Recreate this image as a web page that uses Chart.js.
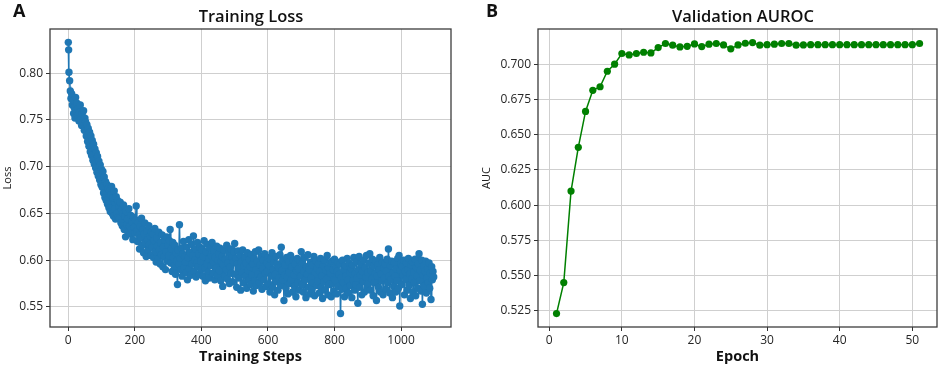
<!DOCTYPE html>
<html>
<head>
<meta charset="utf-8">
<title>Training Loss / Validation AUROC</title>
<script src="https://cdn.jsdelivr.net/npm/chart.js@4.4.1/dist/chart.umd.min.js"></script>
<style>
  body { margin: 0; background: #fff; font-family: "Open Sans", sans-serif; }
  #wrap { position: relative; width: 941px; height: 369px; overflow: hidden; }
  #wrap canvas { position: absolute; top: 0; }
  .letter { position: absolute; top: 0; font-size: 18px; font-weight: bold; color: #111; line-height: 20px; }
  .ttl { position: absolute; top: 4px; font-size: 16.5px; font-weight: 600; color: #111; line-height: 24px; text-align: center; width: 300px; }
</style>
</head>
<body>
<div id="wrap">
  <canvas id="cLoss" width="470" height="369" style="left:0"></canvas>
  <canvas id="cAuc" width="471" height="369" style="left:470px"></canvas>
  <div class="letter" style="left:13px">A</div>
  <div class="letter" style="left:486px">B</div>
  <div class="ttl" style="left:101px">Training Loss</div>
  <div class="ttl" style="left:593px">Validation AUROC</div>
</div>
<script>
// training loss: steps 0 and 1, then one value every 2 steps (step 2 .. 1098)
var lossHeadSteps  = [0, 1];
var lossHeadValues = [0.833, 0.825];
var lossEvery = 2;
var lossValues = [
  0.801, 0.792, 0.781, 0.773, 0.778, 0.766, 0.771, 0.757, 0.763, 0.752, 0.774, 0.760, 0.768, 0.755, 0.762, 0.749, 0.758, 0.766, 0.751, 0.744, 0.757, 0.748, 0.760, 0.739, 0.752,
  0.748, 0.733, 0.745, 0.727, 0.741, 0.722, 0.737, 0.716, 0.733, 0.712, 0.728, 0.707, 0.724, 0.703, 0.719, 0.699, 0.715, 0.694, 0.711, 0.690, 0.706, 0.686, 0.702, 0.681, 0.697,
  0.678, 0.695, 0.672, 0.689, 0.667, 0.684, 0.664, 0.681, 0.660, 0.677, 0.656, 0.674, 0.652, 0.670, 0.679, 0.650, 0.667, 0.647, 0.674, 0.655, 0.644, 0.668, 0.650, 0.664, 0.646,
  0.658, 0.645, 0.662, 0.640, 0.654, 0.637, 0.650, 0.659, 0.633, 0.647, 0.625, 0.652, 0.638, 0.644, 0.630, 0.655, 0.636, 0.628, 0.648, 0.633, 0.641, 0.622, 0.646, 0.635, 0.629,
  0.643, 0.658, 0.631, 0.620, 0.640, 0.627, 0.612, 0.636, 0.624, 0.645, 0.616, 0.633, 0.608, 0.628, 0.640, 0.619, 0.604, 0.631, 0.622, 0.611, 0.637, 0.617, 0.626, 0.605, 0.630,
  0.614, 0.628, 0.603, 0.621, 0.634, 0.609, 0.598, 0.624, 0.615, 0.601, 0.630, 0.611, 0.596, 0.619, 0.606, 0.627, 0.593, 0.614, 0.604, 0.622, 0.590, 0.609, 0.625, 0.599, 0.616,
  0.605, 0.621, 0.633, 0.597, 0.612, 0.588, 0.619, 0.603, 0.594, 0.616, 0.585, 0.608, 0.599, 0.574, 0.611, 0.596, 0.638, 0.602, 0.590, 0.613, 0.583, 0.607, 0.620, 0.592, 0.604,
  0.598, 0.587, 0.614, 0.579, 0.603, 0.622, 0.591, 0.608, 0.584, 0.617, 0.596, 0.605, 0.626, 0.588, 0.600, 0.612, 0.582, 0.597, 0.619, 0.593, 0.607, 0.585, 0.614, 0.599, 0.590,
  0.611, 0.583, 0.604, 0.621, 0.592, 0.578, 0.609, 0.596, 0.617, 0.587, 0.601, 0.581, 0.613, 0.594, 0.605, 0.619, 0.586, 0.598, 0.610, 0.579, 0.603, 0.592, 0.615, 0.584, 0.600,
  0.607, 0.589, 0.613, 0.578, 0.599, 0.604, 0.572, 0.595, 0.611, 0.583, 0.601, 0.590, 0.616, 0.580, 0.597, 0.608, 0.575, 0.593, 0.612, 0.586, 0.603, 0.577, 0.598, 0.609, 0.618,
  0.585, 0.602, 0.571, 0.596, 0.610, 0.581, 0.592, 0.605, 0.568, 0.598, 0.587, 0.611, 0.576, 0.594, 0.603, 0.583, 0.597, 0.570, 0.608, 0.589, 0.579, 0.601, 0.593, 0.574, 0.606,
  0.584, 0.596, 0.567, 0.602, 0.578, 0.609, 0.590, 0.573, 0.599, 0.585, 0.611, 0.576, 0.595, 0.582, 0.604, 0.569, 0.591, 0.600, 0.579, 0.607, 0.586, 0.572, 0.597, 0.588, 0.603,
  0.575, 0.594, 0.566, 0.601, 0.583, 0.608, 0.571, 0.590, 0.598, 0.563, 0.585, 0.604, 0.577, 0.596, 0.568, 0.592, 0.581, 0.606, 0.573, 0.614, 0.589, 0.579, 0.600, 0.557, 0.584,
  0.595, 0.570, 0.603, 0.582, 0.564, 0.598, 0.587, 0.575, 0.605, 0.579, 0.593, 0.566, 0.600, 0.584, 0.572, 0.596, 0.561, 0.589, 0.602, 0.576, 0.591, 0.568, 0.599, 0.583, 0.609,
  0.574, 0.597, 0.566, 0.588, 0.603, 0.579, 0.560, 0.593, 0.585, 0.606, 0.571, 0.590, 0.564, 0.598, 0.581, 0.569, 0.595, 0.576, 0.604, 0.562, 0.587, 0.599, 0.573, 0.591, 0.578,
  0.596, 0.565, 0.588, 0.602, 0.571, 0.583, 0.559, 0.594, 0.577, 0.600, 0.568, 0.589, 0.580, 0.605, 0.563, 0.592, 0.574, 0.597, 0.586, 0.561, 0.599, 0.575, 0.590, 0.567, 0.601,
  0.578, 0.593, 0.564, 0.588, 0.598, 0.572, 0.585, 0.596, 0.543, 0.581, 0.569, 0.600, 0.576, 0.590, 0.561, 0.594, 0.583, 0.570, 0.602, 0.579, 0.565, 0.597, 0.587, 0.573, 0.591,
  0.560, 0.595, 0.578, 0.603, 0.568, 0.586, 0.574, 0.598, 0.581, 0.554, 0.590, 0.604, 0.571, 0.584, 0.596, 0.563, 0.588, 0.577, 0.600, 0.566, 0.592, 0.582, 0.605, 0.570, 0.587,
  0.575, 0.597, 0.607, 0.568, 0.589, 0.580, 0.601, 0.562, 0.594, 0.576, 0.586, 0.599, 0.557, 0.583, 0.595, 0.571, 0.590, 0.603, 0.566, 0.585, 0.578, 0.598, 0.563, 0.592, 0.581,
  0.596, 0.569, 0.588, 0.601, 0.576, 0.612, 0.583, 0.565, 0.594, 0.579, 0.599, 0.560, 0.587, 0.572, 0.597, 0.583, 0.566, 0.591, 0.578, 0.602, 0.570, 0.605, 0.551, 0.589, 0.596,
  0.574, 0.593, 0.584, 0.600, 0.563, 0.588, 0.579, 0.597, 0.568, 0.590, 0.602, 0.573, 0.585, 0.559, 0.595, 0.580, 0.598, 0.566, 0.587, 0.576, 0.601, 0.562, 0.592, 0.583, 0.570,
  0.596, 0.607, 0.578, 0.589, 0.567, 0.600, 0.553, 0.584, 0.594, 0.572, 0.588, 0.599, 0.565, 0.581, 0.591, 0.576, 0.597, 0.570, 0.586, 0.558, 0.593, 0.579, 0.588, 0.582
];
var lossXTicks = [0, 200, 400, 600, 800, 1000];
var lossYTicks = [0.55, 0.60, 0.65, 0.70, 0.75, 0.80];

// validation AUROC, epochs 1..51
var aucValues = [
  0.523, 0.545, 0.610, 0.641, 0.6665, 0.6815, 0.684, 0.695, 0.700, 0.7076,
  0.7066, 0.7076, 0.7085, 0.708, 0.7118, 0.7147, 0.7135, 0.7123, 0.7127, 0.7144,
  0.7125, 0.7142, 0.7147, 0.7137, 0.7109, 0.7137, 0.7149, 0.7154, 0.7135, 0.7139,
  0.7142, 0.7147, 0.7147, 0.7135, 0.7137, 0.7139, 0.7139, 0.7139, 0.7139, 0.7139,
  0.7139, 0.7139, 0.7139, 0.7139, 0.7139, 0.7139, 0.7139, 0.7139, 0.7139, 0.7139,
  0.7147
];
var aucXTicks = [0, 10, 20, 30, 40, 50];
var aucYTicks = [0.525, 0.550, 0.575, 0.600, 0.625, 0.650, 0.675, 0.700];

var FONT = '"Open Sans", sans-serif';
var GRID = '#cfcfcf';
var TICKC = '#333';

// full box around the plot area, like the matplotlib spines
var frame = {
  id: 'frame',
  afterDraw: function(chart){
    var a = chart.chartArea, ctx = chart.ctx;
    ctx.save();
    ctx.strokeStyle = '#3c3c3c';
    ctx.lineWidth = 1.3;
    ctx.strokeRect(a.left, a.top, a.right - a.left, a.bottom - a.top);
    ctx.restore();
  }
};

function fixedTicks(arr){
  return function(scale){ scale.ticks = arr.map(function(v){ return {value: v}; }); };
}

function axes(o){
  return {
    x: {
      type: 'linear', min: o.xmin, max: o.xmax,
      afterBuildTicks: fixedTicks(o.xticks),
      afterFit: function(s){ s.height = 39; },
      grid: { color: GRID, lineWidth: 1, tickColor: TICKC, tickLength: 4 },
      border: { display: false },
      ticks: { color: '#262626', font: { family: FONT, size: 12 }, padding: 2, maxRotation: 0,
               callback: function(v){ return String(v); } },
      title: { display: true, text: o.xtitle, color: '#111', padding: { top: 0, bottom: 0 },
               font: { family: FONT, size: 14.5, weight: 'bold' } }
    },
    y: {
      type: 'linear', min: o.ymin, max: o.ymax,
      afterBuildTicks: fixedTicks(o.yticks),
      afterFit: function(s){ s.width = o.yw; },
      grid: { color: GRID, lineWidth: 1, tickColor: TICKC, tickLength: 4 },
      border: { display: false },
      ticks: { color: '#262626', font: { family: FONT, size: 12 }, padding: 3,
               callback: function(v){ return v.toFixed(o.dec); } },
      title: { display: true, text: o.ytitle, color: '#222', padding: { top: o.ytpad, bottom: 0 },
               font: { family: FONT, size: 11 } }
    }
  };
}

var lossData = lossHeadSteps.map(function(s, i){ return {x: s, y: lossHeadValues[i]}; })
  .concat(lossValues.map(function(v, i){ return {x: (i + 1) * lossEvery, y: v}; }));

new Chart(document.getElementById('cLoss'), {
  type: 'line',
  data: { datasets: [{
    data: lossData, borderColor: '#1f77b4', backgroundColor: '#1f77b4',
    borderWidth: 1.6, pointRadius: 3.7, pointBorderWidth: 0, pointHoverRadius: 3.7, tension: 0
  }] },
  options: {
    responsive: false, animation: false, devicePixelRatio: 1,
    layout: { padding: { top: 29, right: 19, bottom: 3, left: 0 } },
    plugins: { legend: { display: false }, tooltip: { enabled: false } },
    scales: axes({ xmin: -55, xmax: 1150, ymin: 0.5286, ymax: 0.8473, xticks: lossXTicks, yticks: lossYTicks,
                   xtitle: 'Training Steps', ytitle: 'Loss', yw: 50, dec: 2, ytpad: 1 })
  },
  plugins: [frame]
});

new Chart(document.getElementById('cAuc'), {
  type: 'line',
  data: { datasets: [{
    data: aucValues.map(function(v, i){ return {x: i + 1, y: v}; }),
    borderColor: '#008000', backgroundColor: '#008000',
    borderWidth: 1.5, pointRadius: 3.6, pointBorderWidth: 0, pointHoverRadius: 3.6, tension: 0
  }] },
  options: {
    responsive: false, animation: false, devicePixelRatio: 1,
    layout: { padding: { top: 29, right: 4, bottom: 3, left: 0 } },
    plugins: { legend: { display: false }, tooltip: { enabled: false } },
    scales: axes({ xmin: -1.55, xmax: 53.4, ymin: 0.5135, ymax: 0.7250, xticks: aucXTicks, yticks: aucYTicks,
                   xtitle: 'Epoch', ytitle: 'AUC', yw: 68, dec: 3, ytpad: 10 })
  },
  plugins: [frame]
});
</script>
</body>
</html>
